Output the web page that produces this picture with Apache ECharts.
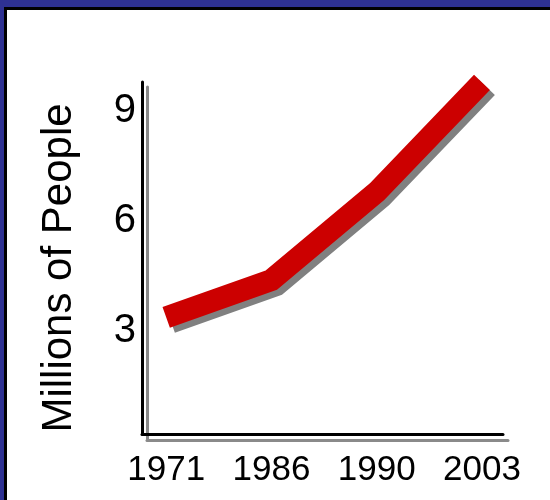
<!DOCTYPE html>
<html>
<head>
<meta charset="utf-8">
<script src="https://cdn.jsdelivr.net/npm/echarts@6/dist/echarts.min.js"></script>
<style>
  html, body { margin: 0; padding: 0; background: #ffffff; }
  #chart { width: 550px; height: 500px; }
</style>
</head>
<body>
<div id="chart"></div>
<script>
// Data
const years = ['1971', '1986', '1990', '2003'];
const millions = [3.38, 4.4, 6.8, 9.79];
const yTickValues = [3, 6, 9];
const yAxisTitle = 'Millions of People';

const FONT = '"Liberation Sans", Arial, sans-serif';
const chart = echarts.init(document.getElementById('chart'), null, { renderer: 'canvas' });

const seriesData = years.map((y, i) => [i, millions[i]]);

chart.setOption({
  backgroundColor: '#ffffff',
  animation: false,
  graphic: [
    { type: 'rect', shape: { x: 0, y: 0, width: 550, height: 7 }, style: { fill: '#2E3192' }, z: 100 },
    { type: 'rect', shape: { x: 0, y: 0, width: 4, height: 500 }, style: { fill: '#2E3192' }, z: 100 },
    { type: 'rect', shape: { x: 4, y: 7, width: 546, height: 3 }, style: { fill: '#000000' }, z: 100 },
    { type: 'rect', shape: { x: 4, y: 7, width: 3, height: 493 }, style: { fill: '#000000' }, z: 100 }
  ],
  grid: {
    left: 142, right: 47, top: 82, bottom: 66,
    containLabel: false,
    outerBoundsMode: 'none'
  },
  xAxis: {
    type: 'value',
    min: -0.23,
    max: 3.2,
    splitLine: { show: false },
    axisTick: { show: false },
    axisLine: {
      show: true,
      onZero: false,
      lineStyle: {
        color: '#000000', width: 3,
        shadowColor: '#8a8a8a', shadowBlur: 0, shadowOffsetX: 5, shadowOffsetY: 6
      }
    },
    axisLabel: {
      customValues: years.map((y, i) => i),
      formatter: (v) => years[Math.round(v)],
      fontFamily: FONT,
      fontSize: 35,
      color: '#000000',
      margin: 19
    }
  },
  yAxis: {
    type: 'value',
    min: 0.2,
    max: 9.8,
    name: yAxisTitle,
    nameLocation: 'middle',
    nameRotate: 90,
    nameGap: 62,
    nameTextStyle: {
      fontFamily: FONT,
      fontSize: 42,
      color: '#000000',
      padding: [0, 20, 0, 0]
    },
    splitLine: { show: false },
    axisTick: { show: false },
    axisLine: {
      show: true,
      onZero: false,
      lineStyle: {
        color: '#000000', width: 3,
        shadowColor: '#8a8a8a', shadowBlur: 0, shadowOffsetX: 5, shadowOffsetY: 5
      }
    },
    axisLabel: {
      customValues: yTickValues,
      fontFamily: FONT,
      fontSize: 40,
      color: '#000000',
      margin: 6,
      padding: [4, 0, 0, 0]
    }
  },
  series: [{
    type: 'line',
    data: seriesData,
    symbol: 'none',
    clip: false,
    lineStyle: {
      color: '#CC0000',
      width: 22,
      cap: 'butt',
      join: 'miter',
      shadowColor: '#808080',
      shadowBlur: 0,
      shadowOffsetX: 5,
      shadowOffsetY: 5
    }
  }]
});
</script>
</body>
</html>
